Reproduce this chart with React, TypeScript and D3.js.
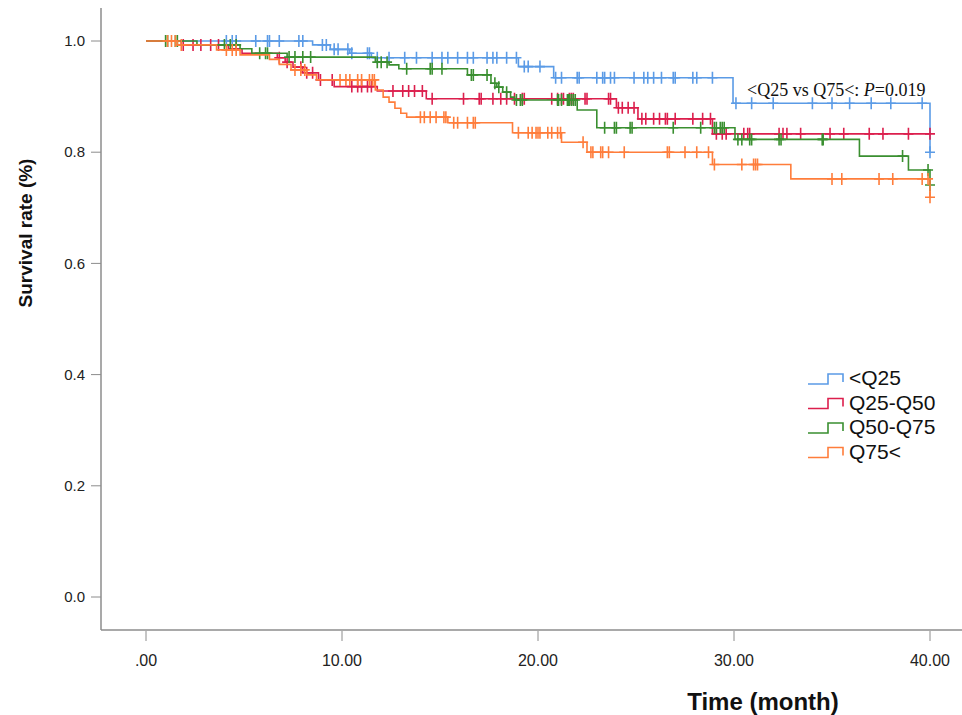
import React, { useEffect, useRef } from 'react';
import * as d3 from 'd3';

// Kaplan-Meier steps: [time (month), survival after the event]
const blueSteps = [[8.5, 0.993], [9.4, 0.985], [10.4, 0.978], [11.5, 0.97], [19.0, 0.954], [20.8, 0.934], [29.95, 0.888], [40.0, 0.8]];
const blueCensor = [4.1, 4.4, 4.6, 5.6, 6.2, 6.3, 6.8, 7.8, 8.0, 9.0, 9.2, 9.6, 9.8, 10.3, 10.5, 11.3, 11.4, 11.8, 12.4, 13.2, 13.8, 14.6, 15.1, 15.4, 15.9, 16.4, 16.7, 17.4, 17.7, 17.9, 18.4, 18.9, 19.3, 19.5, 20.1, 20.9, 21.2, 22.0, 22.1, 23.0, 23.3, 23.4, 23.7, 23.9, 24.9, 25.4, 25.6, 25.9, 26.3, 26.9, 27.0, 27.9, 28.1, 28.9, 30.1, 30.9, 32.0, 34.0, 35.0, 35.9, 37.0, 38.0, 39.6, 40.0];

const redSteps = [[1.8, 0.993], [4.2, 0.986], [4.9, 0.978], [6.7, 0.97], [7.1, 0.962], [7.5, 0.953], [8.0, 0.943], [8.8, 0.93], [9.6, 0.918], [11.8, 0.91], [14.3, 0.896], [24.0, 0.88], [25.1, 0.86], [28.9, 0.833]];
const redCensor = [1.9, 2.4, 2.8, 3.3, 3.7, 6.8, 7.2, 7.9, 8.2, 8.5, 8.9, 9.5, 10.5, 10.8, 11.0, 11.3, 11.5, 12.6, 13.1, 13.4, 13.7, 14.1, 14.6, 16.2, 17.0, 17.1, 17.7, 18.1, 18.4, 18.8, 19.2, 19.3, 20.7, 21.0, 21.2, 21.3, 21.6, 21.7, 21.8, 22.4, 22.5, 23.6, 23.7, 24.1, 24.3, 24.6, 24.9, 25.3, 25.5, 25.9, 26.2, 26.5, 26.6, 27.0, 27.9, 28.4, 28.8, 29.1, 29.4, 29.6, 30.5, 30.7, 30.8, 32.3, 32.5, 32.7, 33.4, 34.9, 35.6, 36.9, 37.6, 38.9, 40.0];

const greenSteps = [[2.6, 0.993], [4.8, 0.986], [5.4, 0.978], [7.2, 0.971], [11.7, 0.962], [12.4, 0.957], [12.9, 0.95], [16.4, 0.939], [17.6, 0.924], [17.9, 0.917], [18.2, 0.908], [18.6, 0.899], [18.8, 0.894], [22.0, 0.876], [23.0, 0.844], [30.05, 0.823], [36.4, 0.793], [38.9, 0.768], [40.0, 0.741]];
const greenCensor = [1.0, 1.1, 1.5, 1.6, 4.0, 4.3, 4.6, 5.8, 6.1, 6.2, 7.3, 7.6, 8.0, 8.4, 11.8, 12.0, 12.3, 13.3, 14.5, 14.6, 15.1, 16.6, 16.7, 17.4, 17.8, 18.0, 18.4, 18.9, 19.1, 19.2, 21.0, 21.05, 21.2, 21.5, 21.55, 21.6, 21.7, 21.8, 21.9, 23.4, 23.9, 24.0, 24.7, 24.8, 26.9, 28.3, 29.0, 29.1, 29.3, 29.4, 29.5, 30.2, 30.4, 30.8, 30.9, 32.3, 32.4, 34.5, 34.55, 38.6, 39.9, 40.0];

const orangeSteps = [[1.6, 0.993], [3.6, 0.984], [4.8, 0.975], [6.3, 0.967], [6.8, 0.958], [7.4, 0.948], [8.2, 0.939], [8.7, 0.93], [11.7, 0.912], [12.1, 0.899], [12.4, 0.89], [12.7, 0.879], [13.0, 0.87], [13.3, 0.863], [15.4, 0.853], [18.7, 0.835], [21.2, 0.818], [22.5, 0.8], [28.9, 0.778], [32.9, 0.752], [40.0, 0.719]];
const orangeCensor = [1.1, 1.3, 1.5, 1.8, 4.1, 4.4, 4.6, 7.6, 7.9, 8.1, 9.9, 10.2, 10.4, 10.8, 11.0, 11.4, 11.55, 11.65, 14.0, 14.2, 14.5, 14.8, 15.2, 15.3, 15.7, 15.9, 16.4, 16.7, 16.8, 19.0, 19.5, 19.7, 19.9, 20.0, 20.1, 20.5, 20.7, 21.0, 21.15, 22.3, 22.7, 22.8, 23.2, 23.3, 23.6, 24.4, 26.6, 26.7, 27.5, 28.1, 28.7, 29.0, 30.4, 31.0, 31.1, 31.2, 35.0, 35.5, 37.4, 38.1, 39.6, 39.9, 40.0];

const groups = ['<Q25', 'Q25-Q50', 'Q50-Q75', 'Q75<'];
const colors = ['#5b9be6', '#dc1f4d', '#3a8f30', '#ff7d3b'];
const xTicks = [0, 10, 20, 30, 40];
const xTickLabels = ['.00', '10.00', '20.00', '30.00', '40.00'];
const yTicks = [0, 0.2, 0.4, 0.6, 0.8, 1.0];

const App = () => {
  const svgRef = useRef<SVGSVGElement>(null);

  useEffect(() => {
    const width = 962;
    const height = 715;
    const svg = d3.select(svgRef.current);
    svg.selectAll('*').remove();
    svg.attr('width', width).attr('height', height);

    const x = d3.scaleLinear().domain([0, 40]).range([146, 930]);
    const y = d3.scaleLinear().domain([0, 1]).range([597, 41]);
    const axisColor = '#8c8c8c';
    const sans = 'Liberation Sans, Arial, sans-serif';

    // axis frame
    svg.append('line').attr('x1', 101).attr('x2', 101).attr('y1', 8).attr('y2', 630)
      .attr('stroke', axisColor).attr('stroke-width', 1.5);
    svg.append('line').attr('x1', 101).attr('x2', 962).attr('y1', 630).attr('y2', 630)
      .attr('stroke', axisColor).attr('stroke-width', 1.5);

    // y ticks
    yTicks.forEach(v => {
      svg.append('line').attr('x1', 91).attr('x2', 101).attr('y1', y(v)).attr('y2', y(v))
        .attr('stroke', axisColor).attr('stroke-width', 1);
      svg.append('text').attr('x', 85).attr('y', y(v)).attr('dy', '0.35em')
        .attr('text-anchor', 'end').attr('font-family', sans)
        .attr('font-size', 15).attr('fill', '#222').text(v.toFixed(1));
    });

    // x ticks
    xTicks.forEach((v, i) => {
      svg.append('line').attr('x1', x(v)).attr('x2', x(v)).attr('y1', 631).attr('y2', 641)
        .attr('stroke', axisColor).attr('stroke-width', 1);
      svg.append('text').attr('x', x(v)).attr('y', 666)
        .attr('text-anchor', 'middle').attr('font-family', sans)
        .attr('font-size', 16).attr('fill', '#222').text(xTickLabels[i]);
    });

    // axis titles
    svg.append('text').attr('x', 763).attr('y', 710).attr('text-anchor', 'middle')
      .attr('font-family', sans).attr('font-weight', 'bold')
      .attr('font-size', 24).attr('fill', '#111').text('Time (month)');
    svg.append('text').attr('transform', 'translate(32, 233) rotate(-90)').attr('text-anchor', 'middle')
      .attr('font-family', sans).attr('font-weight', 'bold')
      .attr('font-size', 19).attr('fill', '#111').text('Survival rate (%)');

    const allSteps = [blueSteps, redSteps, greenSteps, orangeSteps];
    const allCensor = [blueCensor, redCensor, greenCensor, orangeCensor];

    const line = d3.line<number[]>()
      .x(d => x(d[0]))
      .y(d => y(d[1]))
      .curve(d3.curveStepAfter);

    allSteps.forEach((steps, gi) => {
      const survAt = (t: number) => {
        let s = 1;
        steps.forEach(st => { if (st[0] <= t) s = st[1]; });
        return s;
      };
      const last = steps[steps.length - 1];
      const pts = [[0, 1], ...steps];
      if (last[0] < 40) pts.push([40, last[1]]);

      svg.append('path').datum(pts)
        .attr('fill', 'none')
        .attr('stroke', colors[gi])
        .attr('stroke-width', 1.6)
        .attr('d', line);

      // censor marks
      allCensor[gi].forEach(t => {
        const cx = x(t);
        const cy = y(survAt(t));
        svg.append('path')
          .attr('d', `M${cx},${cy - 6}V${cy + 6}M${cx - 5},${cy}H${cx + 5}`)
          .attr('stroke', colors[gi])
          .attr('stroke-width', 1.6)
          .attr('fill', 'none');
      });
    });

    // annotation
    const ann = svg.append('text').attr('x', 747).attr('y', 96)
      .attr('font-family', 'Liberation Serif, Times New Roman, serif')
      .attr('font-size', 18).attr('fill', '#111');
    ann.append('tspan').text('<Q25 vs Q75<: ');
    ann.append('tspan').attr('font-style', 'italic').text('P');
    ann.append('tspan').text('=0.019');

    // legend
    groups.forEach((g, i) => {
      const yb = 384 + i * 24.5;
      svg.append('path')
        .attr('d', `M808,${yb}H828V${yb - 10}H843V${yb - 2}`)
        .attr('fill', 'none').attr('stroke', colors[i]).attr('stroke-width', 1.6);
      svg.append('text').attr('x', 849).attr('y', yb + 1)
        .attr('font-family', sans)
        .attr('font-size', 21).attr('fill', '#111').text(g);
    });
  }, []);

  return (
    <div style={{ position: 'absolute', left: 0, top: 0 }}>
      <svg ref={svgRef}></svg>
    </div>
  );
};

export default App;
